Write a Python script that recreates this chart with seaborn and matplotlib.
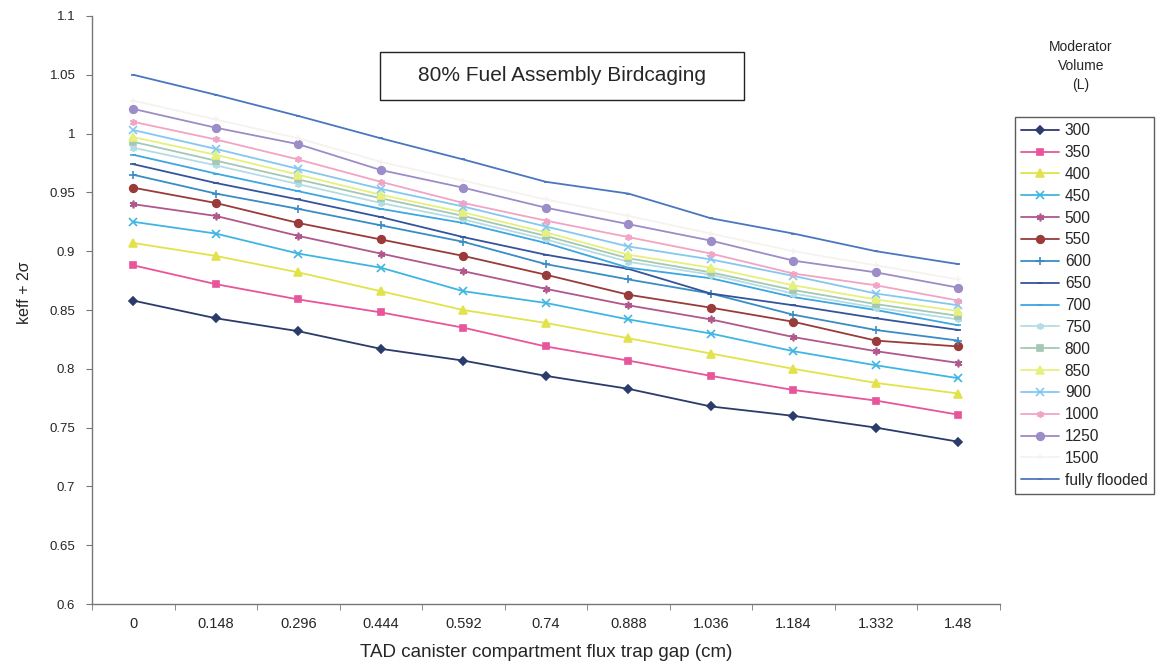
import matplotlib
matplotlib.use("Agg")
import matplotlib.pyplot as plt
from matplotlib.patches import Rectangle
import seaborn as sns
from matplotlib.ticker import FixedLocator, FuncFormatter

# flux trap gap (cm), plotted as evenly spaced categories
gap_labels = ["0", "0.148", "0.296", "0.444", "0.592", "0.74", "0.888", "1.036", "1.184", "1.332", "1.48"]

volumes = ["300", "350", "400", "450", "500", "550", "600", "650", "700",
           "750", "800", "850", "900", "1000", "1250", "1500", "fully flooded"]

k_300 = [0.858, 0.843, 0.832, 0.817, 0.807, 0.794, 0.783, 0.768, 0.760, 0.750, 0.738]
k_350 = [0.888, 0.872, 0.859, 0.848, 0.835, 0.819, 0.807, 0.794, 0.782, 0.773, 0.761]
k_400 = [0.907, 0.896, 0.882, 0.866, 0.850, 0.839, 0.826, 0.813, 0.800, 0.788, 0.779]
k_450 = [0.925, 0.915, 0.898, 0.886, 0.866, 0.856, 0.842, 0.830, 0.815, 0.803, 0.792]
k_500 = [0.940, 0.930, 0.913, 0.898, 0.883, 0.868, 0.854, 0.842, 0.827, 0.815, 0.805]
k_550 = [0.954, 0.941, 0.924, 0.910, 0.896, 0.880, 0.863, 0.852, 0.840, 0.824, 0.819]
k_600 = [0.965, 0.949, 0.936, 0.922, 0.908, 0.889, 0.876, 0.864, 0.846, 0.833, 0.824]
k_650 = [0.974, 0.958, 0.944, 0.929, 0.912, 0.897, 0.885, 0.864, 0.854, 0.843, 0.833]
k_700 = [0.982, 0.966, 0.951, 0.936, 0.924, 0.907, 0.886, 0.877, 0.861, 0.850, 0.837]
k_750 = [0.988, 0.973, 0.957, 0.941, 0.927, 0.910, 0.891, 0.880, 0.864, 0.852, 0.842]
k_800 = [0.993, 0.977, 0.961, 0.945, 0.930, 0.913, 0.894, 0.882, 0.867, 0.855, 0.845]
k_850 = [0.997, 0.982, 0.965, 0.948, 0.933, 0.916, 0.897, 0.886, 0.871, 0.859, 0.849]
k_900 = [1.003, 0.987, 0.970, 0.953, 0.938, 0.921, 0.904, 0.893, 0.879, 0.864, 0.854]
k_1000 = [1.010, 0.995, 0.978, 0.959, 0.941, 0.926, 0.912, 0.898, 0.881, 0.871, 0.858]
k_1250 = [1.021, 1.005, 0.991, 0.969, 0.954, 0.937, 0.923, 0.909, 0.892, 0.882, 0.869]
k_1500 = [1.028, 1.012, 0.996, 0.976, 0.960, 0.944, 0.930, 0.915, 0.900, 0.888, 0.876]
k_flooded = [1.050, 1.033, 1.015, 0.996, 0.978, 0.959, 0.949, 0.928, 0.915, 0.900, 0.889]

series = [k_300, k_350, k_400, k_450, k_500, k_550, k_600, k_650, k_700,
          k_750, k_800, k_850, k_900, k_1000, k_1250, k_1500, k_flooded]

colors = ["#2b3b6b", "#e8559a", "#e2e34a", "#3fb6e2", "#b0578c", "#9a3b3b",
          "#3a8cc4", "#34549c", "#3ea6e0", "#b4dce4", "#a4c8b4", "#e6f07e",
          "#84c8f0", "#f2a4c4", "#9c8cc8", "#f6f2ef", "#4a76c0"]
star = (6, 2, 0)
markers = ["D", "s", "^", "x", star, "o", "+", "_", "_", star, "s", "^", "x",
           star, "o", "+", "_"]
msizes = [4.5, 5, 5.5, 5.5, 5.5, 5.5, 6, 4, 5, 5, 5, 5.5, 5.5, 5, 5.5, 5, 3]

sns.set_style("white")
plt.rcParams["font.family"] = ["Liberation Sans", "DejaVu Sans"]

fig = plt.figure(figsize=(11.69, 6.66), dpi=100)
ax = fig.add_axes([0.0787, 0.093, 0.7765, 0.883])

pos = list(range(len(gap_labels)))
for name, vals, c, m, ms in zip(volumes, series, colors, markers, msizes):
    sns.lineplot(x=pos, y=vals, ax=ax, color=c, marker=m, markersize=ms,
                 markeredgecolor=c, markerfacecolor=c, markeredgewidth=1.2,
                 linewidth=1.3, label=name)

ax.set_xlim(-0.5, 10.5)
ax.set_ylim(0.6, 1.1)
ax.set_yticks([0.6 + 0.05 * i for i in range(11)])
ax.yaxis.set_major_formatter(FuncFormatter(lambda v, p: f"{v:g}"))
ax.set_xticks(pos)
ax.set_xticklabels(gap_labels)
ax.xaxis.set_minor_locator(FixedLocator([p - 0.5 for p in pos] + [10.5]))
ax.tick_params(axis="x", which="major", length=0, pad=9, labelsize=10.5)
ax.tick_params(axis="x", which="minor", length=4, color="#777777", direction="out")
ax.tick_params(axis="y", length=4, color="#777777", direction="out", labelsize=9.5, pad=8)
ax.tick_params(bottom=True, left=True, which="both")
for s in ["top", "right"]:
    ax.spines[s].set_visible(False)
for s in ["left", "bottom"]:
    ax.spines[s].set_color("#777777")
    ax.spines[s].set_linewidth(1)

ax.set_xlabel("TAD canister compartment flux trap gap (cm)", fontsize=13.5, labelpad=10)
ax.set_ylabel("keff + 2σ", fontsize=11.5)
ax.yaxis.set_label_coords(-0.066, 0.53)

# title box
ax.add_patch(Rectangle((0.317, 0.857), 0.401, 0.082, transform=ax.transAxes,
                       facecolor="white", edgecolor="#222222", linewidth=1, zorder=5))
ax.text(0.5176, 0.898, "80% Fuel Assembly Birdcaging", transform=ax.transAxes,
        ha="center", va="center", fontsize=15, zorder=6)

handles, labels = ax.get_legend_handles_labels()
ax.legend_.remove()
fig.legend(handles, labels, loc="upper left", bbox_to_anchor=(1015 / 1169, 1 - 117 / 666),
           frameon=True, fancybox=False, edgecolor="#333333", fontsize=11.2,
           labelspacing=0.44, handlelength=2.4, handletextpad=0.4, borderpad=0.4,
           borderaxespad=0)
fig.text(1081 / 1169, 1 - 66 / 666, "Moderator\nVolume\n(L)", ha="center", va="center",
         fontsize=10, linespacing=1.45)

fig.savefig("out.png", dpi=100)
